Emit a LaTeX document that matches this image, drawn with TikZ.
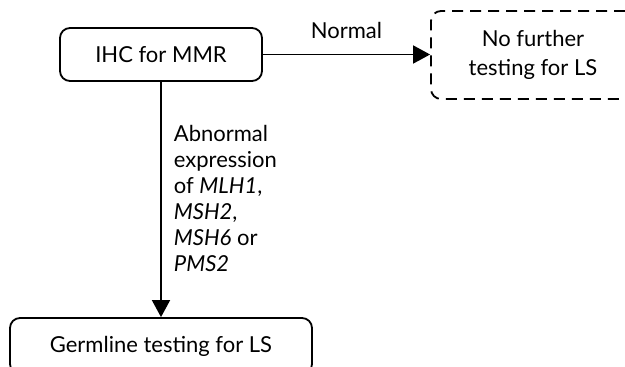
\documentclass[tikz,border=0pt]{standalone}
\usepackage{fontspec}
\setmainfont{Lato}
\usetikzlibrary{arrows.meta}
\begin{document}
\begin{tikzpicture}[x=1pt,y=-1pt,
  box/.style={draw, line width=1.8pt, rounded corners=10pt, inner sep=0pt, align=center,
    font=\fontsize{22}{29}\selectfont},
  dashbox/.style={box, dash pattern=on 11pt off 7pt},
  conn/.style={line width=1.8pt, -{Triangle[length=17pt,width=18pt]}},
  lbl/.style={font=\fontsize{22}{26}\selectfont, inner sep=0pt, align=left}]
\useasboundingbox (0,0) rectangle (625,367);
\node[box, minimum width=202pt, minimum height=53pt] (ihc) at (161,54.5) {IHC for MMR};
\node[dashbox, minimum width=204pt, minimum height=88pt] (nf) at (533,55) {No further\\testing for LS};
\node[box, minimum width=302pt, minimum height=56pt] (germ) at (161,346) {Germline testing for LS};
\draw[conn] (ihc.east) -- (ihc.east -| nf.west)
  node[midway, anchor=base, yshift=16pt, lbl] (nl) {Normal};
\draw[conn] (ihc.south) -- (germ.north)
  node[midway, anchor=west, xshift=12pt, yshift=1pt, lbl] (al) {Abnormal\\expression\\of \textit{MLH1},\\\textit{MSH2},\\\textit{MSH6} or\\\textit{PMS2}};
\end{tikzpicture}
\end{document}
